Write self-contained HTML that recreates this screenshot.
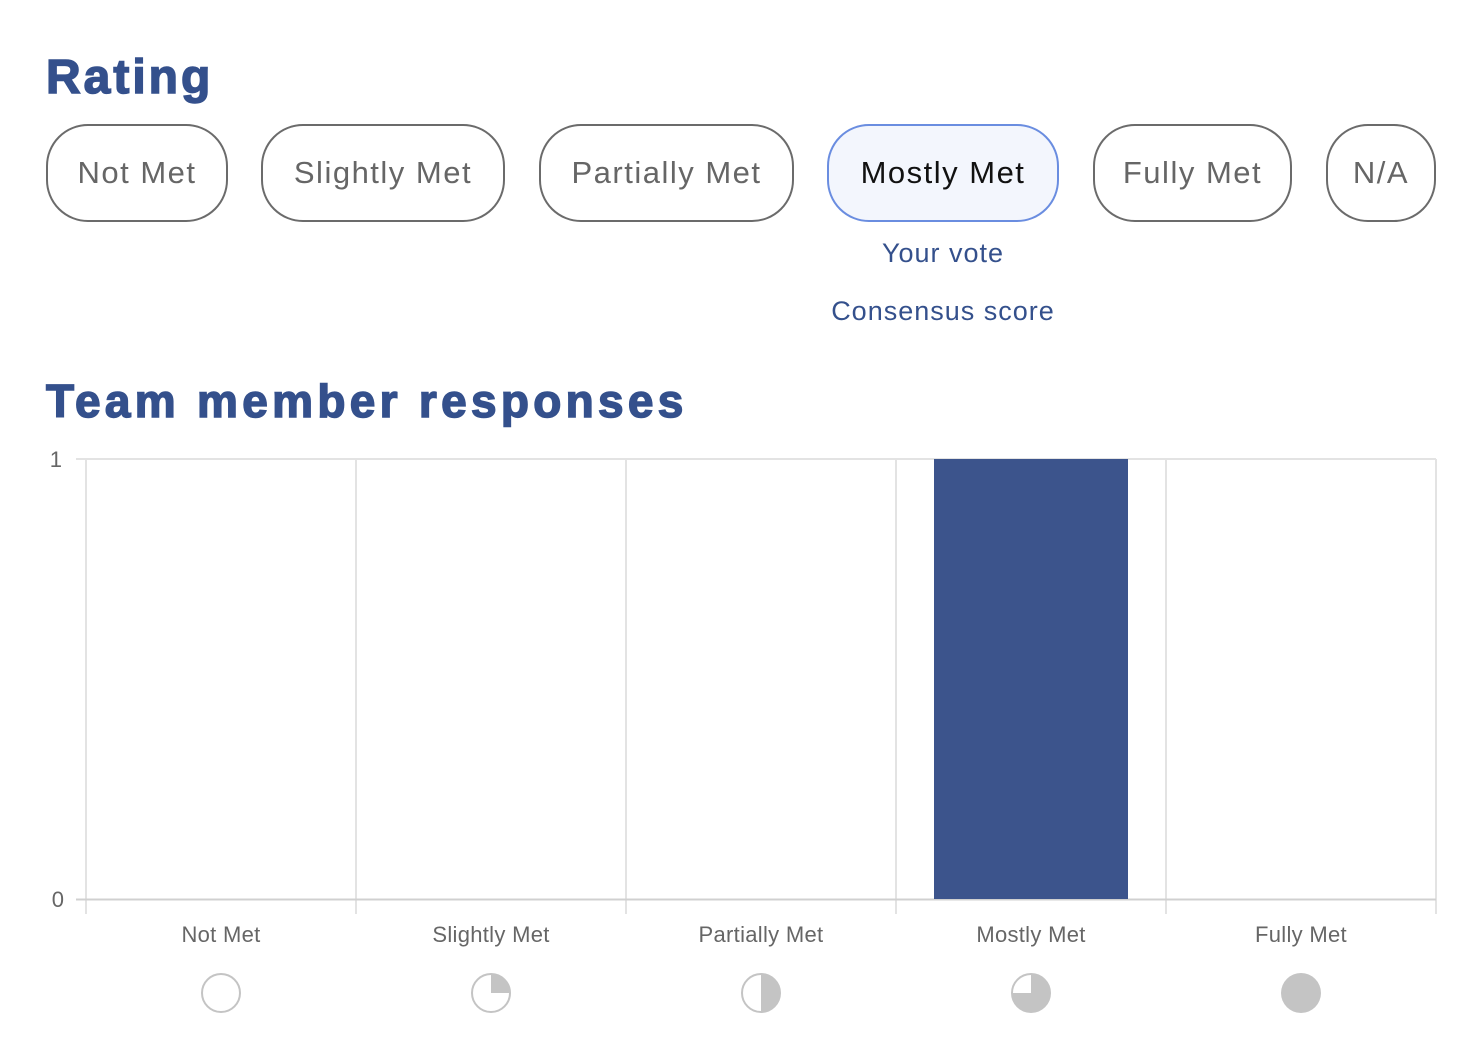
<!DOCTYPE html>
<html><head><style>
body{margin:0;width:1472px;height:1038px;background:#fff;font-family:"Liberation Sans",sans-serif;position:relative;overflow:hidden}
.a{position:absolute}
h1{position:absolute;margin:0;color:#34508c;font-weight:900;font-family:"Liberation Sans",sans-serif;-webkit-text-stroke:1.5px #34508c}
.btn{position:absolute;top:124px;border:2px solid #6b6b6b;border-radius:42px;box-sizing:border-box;height:98px;display:flex;align-items:center;justify-content:center;font-size:31px;color:#666;letter-spacing:1.5px}
.lbl{position:absolute;top:922px;width:270px;text-align:center;font-size:22px;color:#666;letter-spacing:0.3px}
</style></head><body>
<h1 style="left:46px;top:50px;font-size:48px;letter-spacing:3px">Rating</h1>
<div class="btn" style="left:46px;width:182px">Not Met</div>
<div class="btn" style="left:261px;width:244px">Slightly Met</div>
<div class="btn" style="left:539px;width:255px">Partially Met</div>
<div class="btn" style="left:827px;width:232px;border-color:#6a8de0;background:#f3f6fd;color:#111">Mostly Met</div>
<div class="btn" style="left:1093px;width:199px">Fully Met</div>
<div class="btn" style="left:1326px;width:110px">N/A</div>
<div class="a" style="left:800px;width:286px;top:238px;text-align:center;font-size:27px;color:#34508c;letter-spacing:1px">Your vote</div>
<div class="a" style="left:780px;width:326px;top:296px;text-align:center;font-size:27px;color:#34508c;letter-spacing:1px">Consensus score</div>
<h1 style="left:46px;top:374px;font-size:46px;letter-spacing:4.3px">Team member responses</h1>
<svg class="a" style="left:0;top:0" width="1472" height="1038">
<g stroke="#e3e3e3" stroke-width="2">
<line x1="86" y1="459" x2="1436" y2="459"/>
<line x1="86" y1="459" x2="86" y2="914"/><line x1="356" y1="459" x2="356" y2="914"/><line x1="626" y1="459" x2="626" y2="914"/><line x1="896" y1="459" x2="896" y2="914"/><line x1="1166" y1="459" x2="1166" y2="914"/><line x1="1436" y1="459" x2="1436" y2="914"/>
<line x1="76" y1="459" x2="86" y2="459"/>
</g>
<line x1="76" y1="899.5" x2="1436" y2="899.5" stroke="#d0d0d0" stroke-width="2"/>
<rect x="934" y="459" width="194" height="440" fill="#3c548c"/>
<text x="62" y="467" font-size="22" fill="#666" text-anchor="end">1</text>
<text x="64" y="907" font-size="22" fill="#666" text-anchor="end">0</text>
<g stroke="#c4c4c4" stroke-width="2" fill="#fff">
<circle cx="221" cy="993" r="19"/>
<circle cx="491" cy="993" r="19"/>
<circle cx="761" cy="993" r="19"/>
<circle cx="1031" cy="993" r="19"/>
</g>
<path d="M491 993 V974 A19 19 0 0 1 510 993 Z" fill="#c4c4c4"/>
<path d="M761 974 A19 19 0 0 1 761 1012 Z" fill="#c4c4c4"/>
<path d="M1031 993 V974 A19 19 0 1 1 1012 993 Z" fill="#c4c4c4"/>
<circle cx="1301" cy="993" r="20" fill="#c4c4c4"/>
</svg>
<div class="lbl" style="left:86px">Not Met</div>
<div class="lbl" style="left:356px">Slightly Met</div>
<div class="lbl" style="left:626px">Partially Met</div>
<div class="lbl" style="left:896px">Mostly Met</div>
<div class="lbl" style="left:1166px">Fully Met</div>
</body></html>
